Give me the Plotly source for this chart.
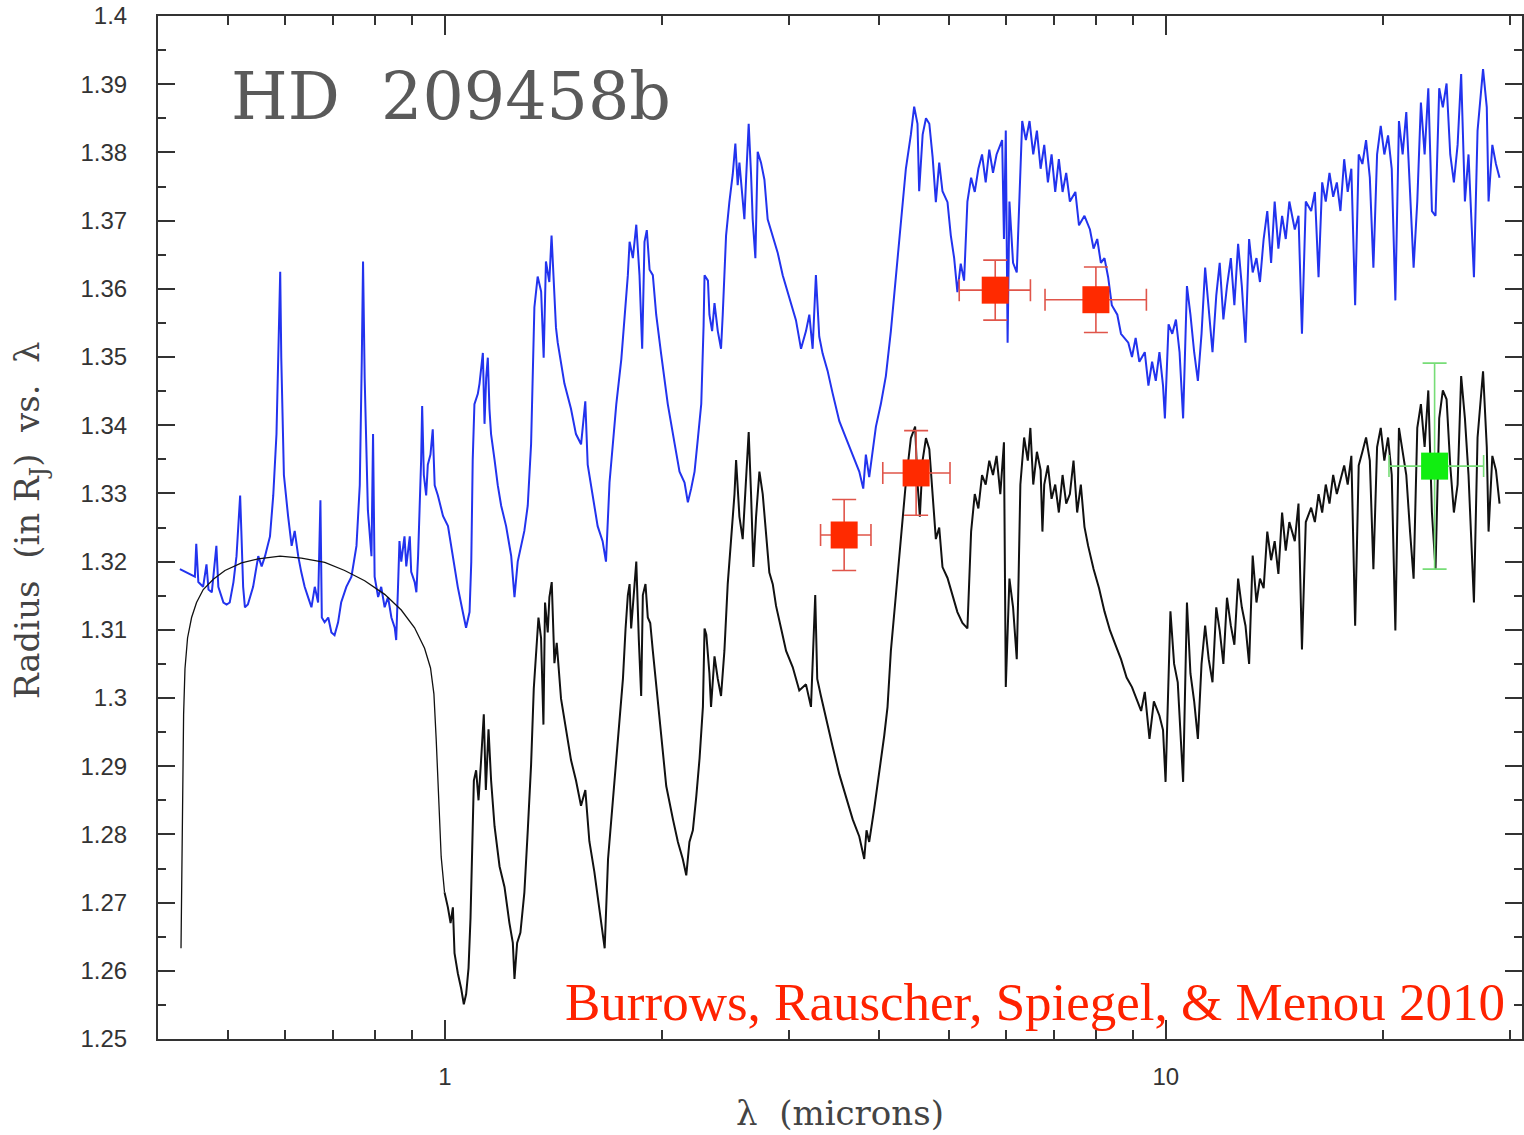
import math
import plotly.graph_objects as go

# ---------------- data ----------------
# Upper model spectrum (blue): wavelength (microns), radius (R_J)
blue_wl = [
    0.429, 0.441, 0.450, 0.452, 0.455, 0.462, 0.467, 0.470, 0.475, 0.482, 0.485, 0.493, 0.498, 0.503,
    0.509, 0.514, 0.517, 0.520, 0.522, 0.525, 0.528, 0.533, 0.542, 0.551, 0.557, 0.563, 0.572, 0.578,
    0.584, 0.588, 0.591, 0.593, 0.598, 0.606, 0.613, 0.619, 0.626, 0.632, 0.639, 0.646, 0.653, 0.660,
    0.667, 0.672, 0.675, 0.681, 0.689, 0.696, 0.703, 0.711, 0.718, 0.730, 0.742, 0.754, 0.762, 0.767,
    0.770, 0.774, 0.782, 0.791, 0.795, 0.799, 0.808, 0.816, 0.825, 0.834, 0.843, 0.852, 0.856, 0.861,
    0.865, 0.870, 0.879, 0.884, 0.894, 0.898, 0.908, 0.913, 0.918, 0.927, 0.930, 0.935, 0.942, 0.947,
    0.955, 0.962, 0.968, 0.978, 0.994, 1.010, 1.026, 1.042, 1.059, 1.070, 1.082, 1.088, 1.093, 1.099,
    1.111, 1.117, 1.129, 1.135, 1.141, 1.147, 1.153, 1.159, 1.172, 1.184, 1.197, 1.216, 1.236, 1.249,
    1.262, 1.276, 1.289, 1.303, 1.317, 1.331, 1.345, 1.360, 1.371, 1.381, 1.396, 1.406, 1.419, 1.426,
    1.434, 1.449, 1.465, 1.496, 1.520, 1.545, 1.566, 1.578, 1.603, 1.629, 1.655, 1.673,
    1.692, 1.729, 1.757, 1.776, 1.794, 1.804, 1.823, 1.843, 1.862, 1.878, 1.892, 1.906, 1.923, 1.943,
    1.964, 1.995, 2.038, 2.083, 2.116, 2.150, 2.173, 2.196, 2.220, 2.244, 2.268, 2.285, 2.292, 2.317,
    2.328, 2.348, 2.366, 2.391, 2.416, 2.429, 2.455, 2.481, 2.508, 2.529, 2.548, 2.562, 2.589, 2.603,
    2.617, 2.639, 2.659, 2.673, 2.696, 2.716, 2.745, 2.775, 2.804, 2.834, 2.865, 2.895, 2.942, 3.005,
    3.069, 3.119, 3.169, 3.203, 3.237, 3.271, 3.306, 3.342, 3.395, 3.450, 3.525, 3.601, 3.679, 3.757,
    3.805, 3.837, 3.878, 3.920, 3.962, 4.025, 4.090, 4.156, 4.223, 4.291, 4.360, 4.430, 4.477, 4.525,
    4.549, 4.600, 4.649, 4.699, 4.749, 4.798, 4.850, 4.901, 4.980, 5.033, 5.087, 5.140, 5.195, 5.251,
    5.307, 5.370, 5.433, 5.496, 5.561, 5.626, 5.691, 5.759, 5.825, 5.930, 5.964, 5.999, 6.034, 6.069,
    6.140, 6.213, 6.285, 6.322, 6.397, 6.472, 6.549, 6.626, 6.705, 6.783, 6.863, 6.944, 7.025, 7.107,
    7.192, 7.276, 7.362, 7.492, 7.579, 7.713, 7.849, 7.940, 8.034, 8.128, 8.222, 8.319, 8.417, 8.566,
    8.667, 8.872, 8.977, 9.083, 9.190, 9.352, 9.461, 9.573, 9.686, 9.800, 9.913, 9.972, 10.09, 10.21,
    10.33, 10.45, 10.57, 10.70, 10.82, 10.95, 11.08, 11.21, 11.34, 11.47, 11.61, 11.75, 11.88, 12.02,
    12.16, 12.31, 12.45, 12.60, 12.75, 12.90, 13.05, 13.20, 13.36, 13.51, 13.67, 13.83, 14.00, 14.16,
    14.33, 14.50, 14.67, 14.84, 15.10, 15.28, 15.45, 15.64, 15.91, 16.10, 16.29, 16.48, 16.67, 16.87,
    17.07, 17.27, 17.47, 17.68, 17.88, 18.09, 18.31, 18.52, 18.74, 18.96, 19.19, 19.41, 19.64, 19.87,
    20.10, 20.34, 20.58, 20.82, 21.06, 21.31, 21.56, 21.82, 22.07, 22.33, 22.59, 22.86, 23.13, 23.40,
    23.67, 23.95, 24.23, 24.52, 24.81, 25.10, 25.40, 25.69, 26.00, 26.30, 26.76, 27.07, 27.55, 27.88,
    28.04, 28.38, 28.71, 29.04,
]
blue_r = [
    1.3189, 1.3182, 1.3178, 1.3226, 1.3170, 1.3163, 1.3196, 1.3159, 1.3155, 1.3223, 1.3163, 1.3140, 1.3137, 1.3140,
    1.3170, 1.3208, 1.3260, 1.3297, 1.3245, 1.3163, 1.3133, 1.3137, 1.3163, 1.3208, 1.3193, 1.3208, 1.3237, 1.3297,
    1.3387, 1.3536, 1.3625, 1.3499, 1.3327, 1.3267, 1.3223, 1.3245, 1.3208, 1.3185, 1.3163, 1.3148, 1.3133, 1.3163,
    1.3140, 1.3290, 1.3118, 1.3111, 1.3118, 1.3096, 1.3092, 1.3111, 1.3140, 1.3163, 1.3178, 1.3223, 1.3312, 1.3499,
    1.3640, 1.3469, 1.3275, 1.3208, 1.3387, 1.3178, 1.3148, 1.3163, 1.3133, 1.3148, 1.3118, 1.3103, 1.3085, 1.3163,
    1.3230, 1.3200, 1.3237, 1.3193, 1.3237, 1.3185, 1.3170, 1.3155, 1.3208, 1.3349, 1.3428, 1.3327, 1.3297, 1.3342,
    1.3357, 1.3394, 1.3312, 1.3297, 1.3267, 1.3252, 1.3208, 1.3163, 1.3126, 1.3103, 1.3126, 1.3200, 1.3349, 1.3431,
    1.3446, 1.3461, 1.3506, 1.3402, 1.3469, 1.3499, 1.3424, 1.3387, 1.3349, 1.3312, 1.3282, 1.3252, 1.3208, 1.3148,
    1.3200, 1.3223, 1.3245, 1.3282, 1.3372, 1.3573, 1.3618, 1.3596, 1.3499, 1.3640, 1.3610, 1.3678, 1.3588, 1.3543,
    1.3521, 1.3491, 1.3461, 1.3424, 1.3387, 1.3372, 1.3435, 1.3342, 1.3297, 1.3252, 1.3230, 1.3200,
    1.3316, 1.3431, 1.3497, 1.3562, 1.3620, 1.3669, 1.3645, 1.3694, 1.3620, 1.3512, 1.3669, 1.3686, 1.3628, 1.3620,
    1.3562, 1.3505, 1.3431, 1.3373, 1.3332, 1.3316, 1.3287, 1.3307, 1.3332, 1.3381, 1.3431, 1.3546, 1.3620, 1.3612,
    1.3562, 1.3538, 1.3579, 1.3538, 1.3512, 1.3562, 1.3678, 1.3727, 1.3768, 1.3813, 1.3752, 1.3785, 1.3727, 1.3702,
    1.3760, 1.3842, 1.3768, 1.3702, 1.3645, 1.3801, 1.3785, 1.3760, 1.3702, 1.3686, 1.3669, 1.3653, 1.3620, 1.3587,
    1.3554, 1.3512, 1.3538, 1.3562, 1.3512, 1.3620, 1.3530, 1.3505, 1.3480, 1.3447, 1.3406, 1.3381, 1.3357, 1.3332,
    1.3307, 1.3357, 1.3324, 1.3365, 1.3398, 1.3431, 1.3472, 1.3538, 1.3620, 1.3702, 1.3776, 1.3826, 1.3867, 1.3842,
    1.3743, 1.3826, 1.3850, 1.3842, 1.3793, 1.3727, 1.3785, 1.3743, 1.3727, 1.3678, 1.3645, 1.3595, 1.3637, 1.3612,
    1.3728, 1.3763, 1.3742, 1.3776, 1.3797, 1.3756, 1.3804, 1.3770, 1.3797, 1.3818, 1.3673, 1.3832, 1.3521, 1.3728,
    1.3638, 1.3624, 1.3763, 1.3846, 1.3818, 1.3846, 1.3797, 1.3832, 1.3776, 1.3811, 1.3756, 1.3797, 1.3742, 1.3790,
    1.3742, 1.3770, 1.3728, 1.3742, 1.3693, 1.3707, 1.3687, 1.3659, 1.3673, 1.3638, 1.3645, 1.3617, 1.3576, 1.3562,
    1.3534, 1.3521, 1.3500, 1.3528, 1.3493, 1.3507, 1.3458, 1.3493, 1.3465, 1.3507, 1.3458, 1.3410, 1.3548, 1.3534,
    1.3555, 1.3507, 1.3410, 1.3604, 1.3562, 1.3507, 1.3465, 1.3534, 1.3631, 1.3569, 1.3507, 1.3590, 1.3638, 1.3555,
    1.3604, 1.3645, 1.3576, 1.3666, 1.3604, 1.3521, 1.3673, 1.3624, 1.3645, 1.3610, 1.3673, 1.3714, 1.3638, 1.3728,
    1.3659, 1.3707, 1.3673, 1.3728, 1.3687, 1.3707, 1.3534, 1.3728, 1.3714, 1.3742, 1.3617, 1.3756, 1.3728, 1.3770,
    1.3735, 1.3756, 1.3714, 1.3790, 1.3742, 1.3776, 1.3576, 1.3797, 1.3783, 1.3818, 1.3763, 1.3631, 1.3797, 1.3839,
    1.3797, 1.3825, 1.3776, 1.3583, 1.3846, 1.3797, 1.3859, 1.3742, 1.3631, 1.3728, 1.3873, 1.3797, 1.3894, 1.3714,
    1.3707, 1.3894, 1.3866, 1.3901, 1.3797, 1.3756, 1.3811, 1.3915, 1.3728, 1.3797, 1.3617, 1.3832, 1.3922, 1.3866,
    1.3728, 1.3811, 1.3783, 1.3763,
]

# Lower model spectrum (black)
black_wl = [
    0.4305, 0.4321, 0.4341, 0.4360, 0.4396, 0.4453, 0.4524, 0.4622, 0.4773, 0.4954, 0.5224, 0.5508, 0.5907, 0.6324,
    0.6814, 0.7261, 0.7740, 0.8251, 0.8700, 0.9078, 0.9372, 0.9552, 0.9656, 0.9727, 0.9800, 0.9883, 0.9989, 1.0097,
    1.0184, 1.0259, 1.0313, 1.0424, 1.0534, 1.0624, 1.0703, 1.0785, 1.0854, 1.0911, 1.0970, 1.1050, 1.1135, 1.1227,
    1.1324, 1.1398, 1.1496, 1.1591, 1.1719, 1.1909, 1.2098, 1.2290, 1.2424, 1.2490, 1.2596, 1.2729, 1.2891, 1.3030,
    1.3170, 1.3284, 1.3383, 1.3484, 1.3597, 1.3700, 1.3770, 1.3890, 1.3964, 1.4068, 1.4189, 1.4294, 1.4492, 1.4723,
    1.4962, 1.5202, 1.5447, 1.5662, 1.5864, 1.6120, 1.6380, 1.6554,
    1.666, 1.684, 1.702, 1.729, 1.747, 1.766, 1.781, 1.794, 1.804, 1.813, 1.833, 1.843, 1.858, 1.872,
    1.882, 1.898, 1.912, 1.927, 1.943, 1.964, 1.995, 2.028, 2.072, 2.105, 2.138, 2.162, 2.184, 2.208,
    2.232, 2.256, 2.280, 2.292, 2.305, 2.328, 2.340, 2.366, 2.391, 2.416, 2.442, 2.468, 2.495, 2.522,
    2.535, 2.562, 2.589, 2.612, 2.639, 2.659, 2.679, 2.702, 2.731, 2.760, 2.790, 2.819, 2.850, 2.880,
    2.927, 2.974, 3.038, 3.102, 3.169, 3.220, 3.264, 3.285, 3.324, 3.378, 3.450, 3.525, 3.601, 3.679,
    3.757, 3.817, 3.845, 3.878, 3.941, 4.004, 4.069, 4.112, 4.156, 4.223, 4.291, 4.360, 4.430, 4.491,
    4.525, 4.559, 4.600, 4.649, 4.699, 4.749, 4.798, 4.850, 4.901, 4.980, 5.060, 5.140, 5.223, 5.307,
    5.370, 5.433, 5.496, 5.561, 5.626, 5.691, 5.759, 5.825, 5.895, 5.964, 5.999, 6.069, 6.140, 6.213,
    6.249, 6.285, 6.361, 6.436, 6.489, 6.549, 6.626, 6.705, 6.744, 6.783, 6.863, 6.944, 7.025, 7.107,
    7.192, 7.276, 7.362, 7.448, 7.535, 7.624, 7.713, 7.804, 7.940, 8.081, 8.222, 8.368, 8.516, 8.667,
    8.824, 8.977, 9.136, 9.244, 9.352, 9.493, 9.627, 9.800, 9.913, 9.994, 10.15, 10.27, 10.39, 10.51,
    10.57, 10.70, 10.82, 10.95, 11.08, 11.21, 11.34, 11.47, 11.61, 11.75, 11.88, 12.02, 12.16, 12.31,
    12.45, 12.60, 12.75, 12.90, 13.05, 13.20, 13.36, 13.51, 13.67, 13.83, 14.00, 14.16, 14.33, 14.50,
    14.67, 14.84, 15.10, 15.28, 15.45, 15.64, 15.91, 16.10, 16.29, 16.48, 16.67, 16.87, 17.07, 17.27,
    17.47, 17.68, 17.88, 18.09, 18.31, 18.52, 18.74, 18.96, 19.19, 19.41, 19.64, 19.87, 20.10, 20.34,
    20.58, 20.82, 21.06, 21.31, 21.56, 21.82, 22.07, 22.33, 22.59, 22.86, 23.13, 23.40, 23.67, 23.95,
    24.23, 24.52, 24.81, 25.10, 25.40, 25.69, 26.00, 26.30, 26.76, 27.07, 27.55, 27.88, 28.04, 28.38,
    28.71, 29.04,
]
black_r = [
    1.2633, 1.2827, 1.2976, 1.3043, 1.3088, 1.3118, 1.3140, 1.3159, 1.3174, 1.3187, 1.3198, 1.3204, 1.3208, 1.3205,
    1.3199, 1.3187, 1.3172, 1.3152, 1.3129, 1.3103, 1.3073, 1.3044, 1.3006, 1.2939, 1.2865, 1.2767, 1.2715, 1.2693,
    1.2670, 1.2693, 1.2626, 1.2596, 1.2574, 1.2551, 1.2566, 1.2604, 1.2678, 1.2790, 1.2879, 1.2894, 1.2850, 1.2909,
    1.2976, 1.2865, 1.2954, 1.2879, 1.2812, 1.2753, 1.2723, 1.2670, 1.2641, 1.2588, 1.2641, 1.2656, 1.2715, 1.2805,
    1.2902, 1.3014, 1.3066, 1.3118, 1.3088, 1.2961, 1.3140, 1.3096, 1.3148, 1.3170, 1.3051, 1.3081, 1.2999, 1.2954,
    1.2909, 1.2879, 1.2842, 1.2865, 1.2790, 1.2745, 1.2693, 1.2656,
    1.2633, 1.2764, 1.2822, 1.2904, 1.2962, 1.3028, 1.3102, 1.3151, 1.3167, 1.3102, 1.3167, 1.3200, 1.3085, 1.3003,
    1.3151, 1.3167, 1.3118, 1.3110, 1.3069, 1.3020, 1.2945, 1.2871, 1.2822, 1.2789, 1.2764, 1.2740, 1.2789, 1.2806,
    1.2855, 1.2912, 1.2987, 1.3102, 1.3093, 1.3036, 1.2987, 1.3061, 1.3028, 1.3003, 1.3069, 1.3167, 1.3233, 1.3299,
    1.3349, 1.3266, 1.3233, 1.3316, 1.3390, 1.3299, 1.3192, 1.3266, 1.3332, 1.3299, 1.3233, 1.3184, 1.3167, 1.3135,
    1.3102, 1.3069, 1.3045, 1.3011, 1.3020, 1.2987, 1.3151, 1.3028, 1.3003, 1.2970, 1.2929, 1.2888, 1.2855, 1.2822,
    1.2797, 1.2764, 1.2806, 1.2789, 1.2838, 1.2888, 1.2945, 1.2987, 1.3069, 1.3151, 1.3233, 1.3316, 1.3381, 1.3398,
    1.3316, 1.3266, 1.3349, 1.3381, 1.3365, 1.3299, 1.3233, 1.3250, 1.3192, 1.3176, 1.3151, 1.3126, 1.3110, 1.3102,
    1.3244, 1.3299, 1.3278, 1.3327, 1.3313, 1.3348, 1.3327, 1.3355, 1.3299, 1.3375, 1.3016, 1.3175, 1.3133, 1.3057,
    1.3175, 1.3313, 1.3382, 1.3348, 1.3396, 1.3313, 1.3361, 1.3334, 1.3244, 1.3313, 1.3341, 1.3292, 1.3313, 1.3272,
    1.3327, 1.3285, 1.3299, 1.3348, 1.3272, 1.3313, 1.3251, 1.3223, 1.3189, 1.3161, 1.3127, 1.3099, 1.3078, 1.3057,
    1.3030, 1.3016, 1.2995, 1.2981, 1.3009, 1.2940, 1.2995, 1.2974, 1.2953, 1.2877, 1.3127, 1.3050, 1.3023, 1.2933,
    1.2877, 1.3140, 1.3036, 1.2995, 1.2940, 1.3050, 1.3106, 1.3057, 1.3023, 1.3133, 1.3099, 1.3050, 1.3147, 1.3106,
    1.3078, 1.3175, 1.3133, 1.3106, 1.3050, 1.3209, 1.3140, 1.3175, 1.3161, 1.3244, 1.3202, 1.3230, 1.3182, 1.3272,
    1.3216, 1.3258, 1.3230, 1.3285, 1.3071, 1.3258, 1.3279, 1.3258, 1.3299, 1.3272, 1.3313, 1.3285, 1.3327, 1.3299,
    1.3320, 1.3341, 1.3313, 1.3355, 1.3106, 1.3341, 1.3361, 1.3382, 1.3348, 1.3189, 1.3368, 1.3396, 1.3348, 1.3382,
    1.3327, 1.3099, 1.3396, 1.3361, 1.3327, 1.3244, 1.3175, 1.3396, 1.3431, 1.3368, 1.3451, 1.3272, 1.3189, 1.3410,
    1.3451, 1.3438, 1.3341, 1.3272, 1.3313, 1.3472, 1.3410, 1.3327, 1.3140, 1.3382, 1.3479, 1.3368, 1.3244, 1.3355,
    1.3334, 1.3285,
]

# Observed transit radii (red: Spitzer IRAC points; green: MIPS 24 micron)
red_wl = [3.58, 4.505, 5.80, 8.00]
red_r = [1.3239, 1.3330, 1.3598, 1.3584]
red_r_err = [0.0052, 0.0062, 0.0044, 0.0048]
red_wl_lo = [3.32, 4.05, 5.17, 6.80]
red_wl_hi = [3.90, 5.02, 6.49, 9.40]

green_wl = [23.6]
green_r = [1.3340]
green_r_err = [0.0151]
green_wl_lo = [20.4]
green_wl_hi = [27.6]

x_major = [1, 10]
x_major_text = ["1", "10"]
x_minor = [0.5, 0.6, 0.7, 0.8, 0.9, 2, 3, 4, 5, 6, 7, 8, 9, 20, 30]
y_major = [1.25, 1.26, 1.27, 1.28, 1.29, 1.30, 1.31, 1.32, 1.33, 1.34, 1.35, 1.36, 1.37, 1.38, 1.39, 1.40]
y_major_text = ["1.25", "1.26", "1.27", "1.28", "1.29", "1.3", "1.31", "1.32", "1.33", "1.34",
                "1.35", "1.36", "1.37", "1.38", "1.39", "1.4"]
y_minor = [1.255, 1.265, 1.275, 1.285, 1.295, 1.305, 1.315, 1.325, 1.335, 1.345, 1.355, 1.365,
           1.375, 1.385, 1.395]

# ---------------- figure ----------------
fig = go.Figure()

fig.add_trace(go.Scatter(x=blue_wl, y=blue_r, mode="lines",
                         line=dict(color="#2233ee", width=2.0), showlegend=False, hoverinfo="skip"))

# black series: the smooth optical part is drawn thin, the noisy IR part heavier
split = next(i for i, w in enumerate(black_wl) if w >= 0.99)
fig.add_trace(go.Scatter(x=black_wl[:split + 1], y=black_r[:split + 1], mode="lines",
                         line=dict(color="#111111", width=1.3), showlegend=False, hoverinfo="skip"))
fig.add_trace(go.Scatter(x=black_wl[split:], y=black_r[split:], mode="lines",
                         line=dict(color="#111111", width=2.0), showlegend=False, hoverinfo="skip"))


def add_points(wl, r, rerr, lo, hi, mcolor, ecolor):
    fig.add_trace(go.Scatter(
        x=wl, y=r, mode="markers",
        marker=dict(symbol="square", size=27, color=mcolor, line=dict(width=0)),
        error_y=dict(type="data", array=rerr, visible=True, color=ecolor, thickness=1.6, width=12),
        error_x=dict(type="data", array=[h - w for h, w in zip(hi, wl)],
                     arrayminus=[w - l for w, l in zip(wl, lo)],
                     visible=True, color=ecolor, thickness=1.6, width=11),
        showlegend=False, hoverinfo="skip"))


add_points(red_wl, red_r, red_r_err, red_wl_lo, red_wl_hi, "#ff2a00", "#e0554a")
add_points(green_wl, green_r, green_r_err, green_wl_lo, green_wl_hi, "#11ee11", "#77dd77")

axis_col = "#333333"
tick_font = dict(family="Liberation Sans, Arial, sans-serif", size=24, color="#333333")

fig.update_xaxes(
    type="log", range=[math.log10(0.4), math.log10(31.2)],
    tickmode="array", tickvals=x_major, ticktext=x_major_text,
    ticks="inside", ticklen=19, tickwidth=1.5, tickcolor=axis_col,
    minor=dict(tickmode="array", tickvals=x_minor, ticks="inside", ticklen=9,
               tickwidth=1.5, tickcolor=axis_col, showgrid=False),
    showline=True, linecolor=axis_col, linewidth=2, mirror="allticks",
    showgrid=False, zeroline=False, tickfont=tick_font, ticklabelstandoff=15,
)
fig.update_yaxes(
    range=[1.25, 1.40],
    tickmode="array", tickvals=y_major, ticktext=y_major_text,
    ticks="inside", ticklen=17, tickwidth=1.5, tickcolor=axis_col,
    minor=dict(tickmode="array", tickvals=y_minor, ticks="inside", ticklen=8,
               tickwidth=1.5, tickcolor=axis_col, showgrid=False),
    showline=True, linecolor=axis_col, linewidth=2, mirror="allticks",
    showgrid=False, zeroline=False, tickfont=tick_font, ticklabelstandoff=24,
)

serif = "DejaVu Serif, Liberation Serif, serif"
fig.update_layout(
    width=1524, height=1135,
    margin=dict(l=158, r=0, t=16, b=96),
    paper_bgcolor="white", plot_bgcolor="white",
    annotations=[
        dict(text="HD  209458b", xref="paper", yref="paper", x=0.052, y=0.921,
             xanchor="left", yanchor="middle", showarrow=False,
             font=dict(family=serif, size=65, color="#5a5a5a")),
        dict(text="Burrows, Rauscher, Spiegel, & Menou 2010", xref="paper", yref="paper",
             x=0.989, y=0.036, xanchor="right", yanchor="middle", showarrow=False,
             font=dict(family="Liberation Serif, Times New Roman, serif", size=53, color="#ff2200")),
        dict(text="λ  (microns)", xref="paper", yref="paper", x=0.5, y=-0.072,
             xanchor="center", yanchor="middle", showarrow=False,
             font=dict(family=serif, size=34, color="#444444")),
        dict(text="Radius  (in R<sub>J</sub>)  vs.  λ", xref="paper", yref="paper", x=-0.094, y=0.507,
             xanchor="center", yanchor="middle", showarrow=False, textangle=-90,
             font=dict(family=serif, size=34, color="#444444")),
    ],
)

fig.write_html("out.html")
